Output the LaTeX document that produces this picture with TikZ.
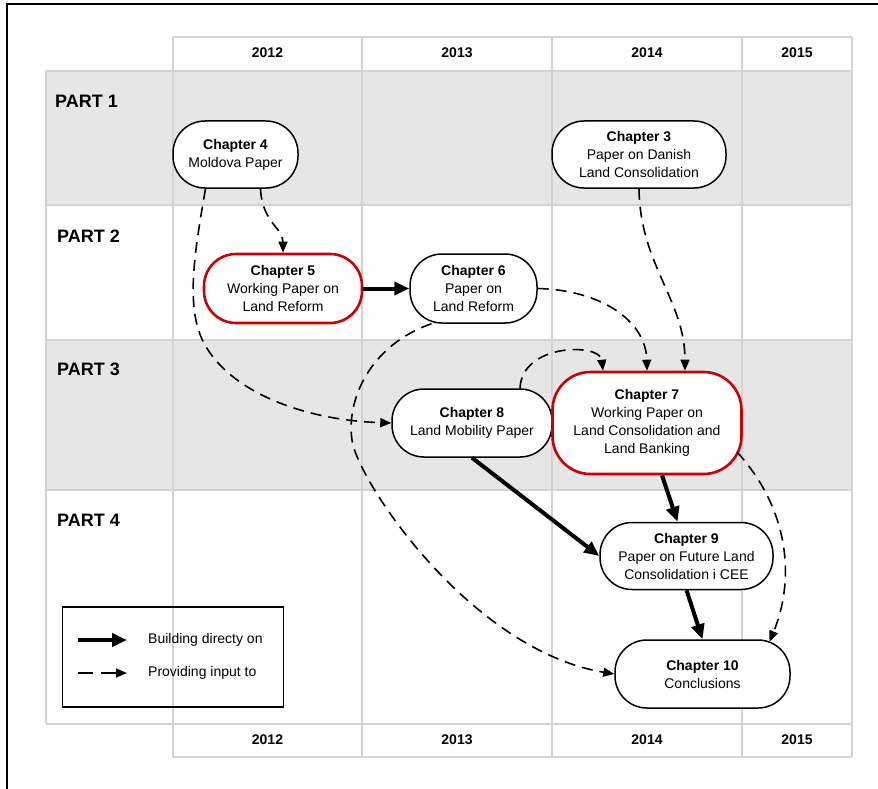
\documentclass[tikz,border=0pt]{standalone}
\usepackage{fontspec}
\setmainfont{Liberation Sans}
\usetikzlibrary{arrows.meta,calc}
\definecolor{gridc}{HTML}{D3D3D3}
\definecolor{rowgray}{HTML}{E6E6E6}
\definecolor{chred}{HTML}{CC0000}
\begin{document}
\begin{tikzpicture}[x=1pt,y=-1pt,
  chap/.style={draw=black, line width=1.5pt, fill=white, rounded corners=32pt, align=center,
    font=\fontsize{14}{18}\selectfont, inner sep=0pt},
  redchap/.style={chap, draw=chred, line width=2.6pt},
  dep/.style={line width=1.6pt, dash pattern=on 11pt off 7pt, -{Triangle[length=11pt,width=9pt]}},
  build/.style={line width=4pt, -{Triangle[length=15pt,width=13pt]}},
  part/.style={anchor=west, font=\fontsize{18}{20}\selectfont\bfseries, inner sep=0pt},
  yr/.style={font=\fontsize{14}{16}\selectfont\bfseries},
  gridline/.style={draw=gridc, line width=2pt},
  legtext/.style={anchor=west, font=\fontsize{14}{16}\selectfont, inner sep=0pt}]
\useasboundingbox (0,0) rectangle (878,789);
% outer frame
\draw[line width=2pt] (7,789) -- (7,4) -- (878,4);
% row fills
\fill[rowgray] (46,71) rectangle (852,205);
\fill[rowgray] (46,340) rectangle (852,490);
% grid
\foreach \x in {173,362,552,742,852} \draw[gridline] (\x,37) -- (\x,757);
\draw[gridline] (46,71) -- (46,724);
\draw[gridline] (173,37) -- (852,37);
\foreach \y in {71,205,340,490,724} \draw[gridline] (46,\y) -- (852,\y);
\draw[gridline] (173,757) -- (852,757);
% years
\node[yr] (h12) at (267.5,53) {2012};
\node[yr] (h13) at (457,53) {2013};
\node[yr] (h14) at (647,53) {2014};
\node[yr] (h15) at (797,53) {2015};
\node[yr] (f12) at (267.5,740) {2012};
\node[yr] (f13) at (457,740) {2013};
\node[yr] (f14) at (647,740) {2014};
\node[yr] (f15) at (797,740) {2015};
% parts
\node[part] (p1) at (55,101) {PART 1};
\node[part] (p2) at (57,236) {PART 2};
\node[part] (p3) at (57,369) {PART 3};
\node[part] (p4) at (57,520) {PART 4};
% chapters
\node[chap, minimum width=125pt, minimum height=67pt] (c4) at (235.5,154.5) {\textbf{Chapter 4}\\Moldova Paper};
\node[chap, minimum width=174pt, minimum height=67pt] (c3) at (639,154.5) {\textbf{Chapter 3}\\Paper on Danish\\Land Consolidation};
\node[redchap, minimum width=158pt, minimum height=69pt] (c5) at (283,288.5) {\textbf{Chapter 5}\\Working Paper on\\Land Reform};
\node[chap, minimum width=127pt, minimum height=69pt] (c6) at (473.5,288.5) {\textbf{Chapter 6}\\Paper on\\Land Reform};
\node[chap, minimum width=160pt, minimum height=68pt] (c8) at (472,423) {\textbf{Chapter 8}\\Land Mobility Paper};
\node[redchap, rounded corners=38pt, minimum width=189pt, minimum height=102pt] (c7) at (647,423) {\textbf{Chapter 7}\\Working Paper on\\Land Consolidation and\\Land Banking};
\node[chap, minimum width=173pt, minimum height=67pt] (c9) at (686.5,556) {\textbf{Chapter 9}\\Paper on Future Land\\Consolidation i CEE};
\node[chap, minimum width=175pt, minimum height=68pt] (c10) at (702.5,674) {\textbf{Chapter 10}\\Conclusions};
% connectors
\draw[dep] ($(c4.south)+(25,0)$) .. controls (262,222) and (283,228) .. (c5.north);
\draw[dep] ($(c4.south)+(-30,0)$) .. controls (194,255) and (185,310) .. (205,345)
   .. controls (230,390) and (300,420) .. (c8.west);
\draw[build] (c5.east) -- (c6.west);
\draw[dep] (c6.east) .. controls (600,290) and (646,320) .. (c7.north);
\draw[dep] (c3.south) .. controls (640,265) and (685,300) .. ($(c7.north)+(38,0)$);
\draw[dep] ($(c8.north)+(48,0)$) .. controls (522,343) and (600,343) .. ($(c7.north)+(-44,0)$);
\draw[dep] (c6.220) .. controls (370,345) and (346,400) .. (352,440)
   .. controls (357,480) and (470,650) .. (c10.west);
\draw[dep] ($(c7.center)+(90,29)$) .. controls (790,510) and (795,580) .. ($(c10.north)+(67,2.5)$);
\draw[build] (c8.south) -- (c9.west);
\draw[build] ($(c7.south)+(15,0)$) -- ($(c9.north)+(-9,0)$);
\draw[build] (c9.south) -- (c10.north);
% legend
\node[draw, line width=1.5pt, minimum width=221pt, minimum height=100pt, inner sep=0pt] (leg) at (173,657) {};
\coordinate (la1) at (78,640);
\coordinate (lb1) at (127,640);
\coordinate (la2) at (78,673);
\coordinate (lb2) at (127,673);
\draw[build] (la1) -- (lb1);
\draw[line width=1.6pt, dash pattern=on 15pt off 8pt, -{Triangle[length=11pt,width=9pt]}] (la2) -- (lb2);
\node[legtext] (lt1) at (148,640) {Building directy on};
\node[legtext] (lt2) at (148,673) {Providing input to};
\end{tikzpicture}
\end{document}
